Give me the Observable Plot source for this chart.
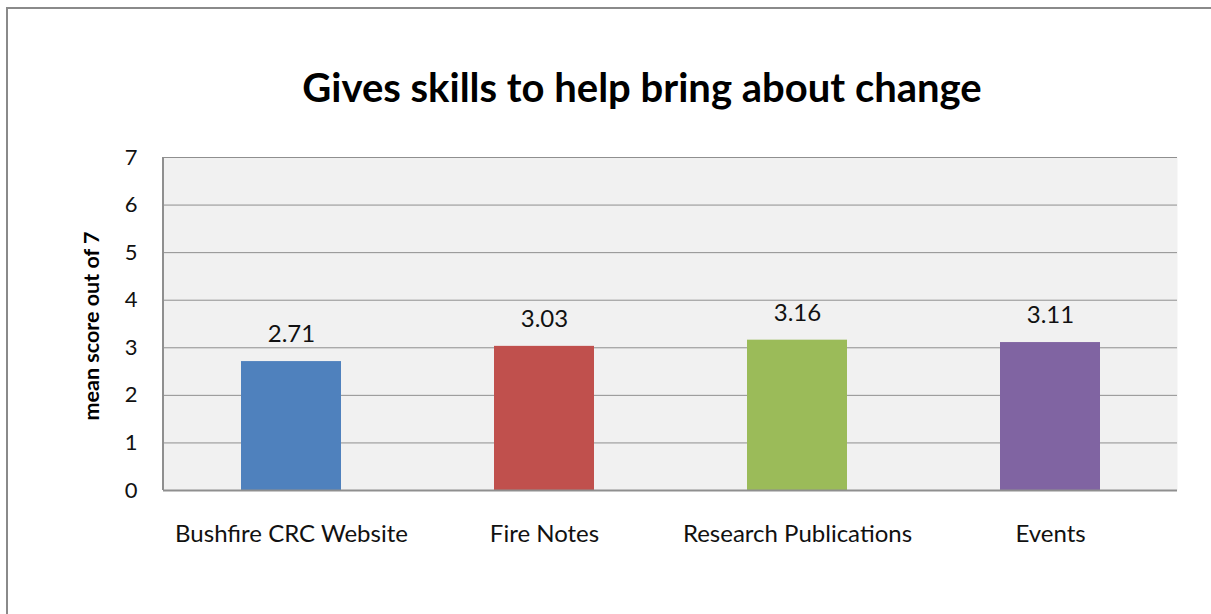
<!DOCTYPE html>
<html>
<head>
<meta charset="utf-8">
<script src="https://cdn.jsdelivr.net/npm/d3@7"></script>
<script src="https://cdn.jsdelivr.net/npm/@observablehq/plot@0.6"></script>
<style>
  html, body { margin: 0; padding: 0; background: #fff; overflow: hidden; }
  #wrap { position: relative; width: 1211px; height: 614px; }
  #frame { position: absolute; left: 6px; top: 7px; width: 1300px; height: 700px;
           border-left: 2px solid #8a8a8a; border-top: 2px solid #8a8a8a; box-sizing: border-box; }
  #title { position: absolute; left: 0; width: 1284px; top: 63px; text-align: center;
           font-family: Lato, "Open Sans", sans-serif; font-weight: bold; font-size: 40px; color: #000; }
  #chart { position: absolute; left: 0; top: 0; }
</style>
</head>
<body>
<div id="wrap">
  <div id="frame"></div>
  <div id="title">Gives skills to help bring about change</div>
  <div id="chart"></div>
</div>
<script>
const categories = ["Bushfire CRC Website", "Fire Notes", "Research Publications", "Events"];
const values = [2.71, 3.03, 3.16, 3.11];
const colors = ["#4f81bd", "#c0504d", "#9bbb59", "#8064a2"];
const yTicks = [0, 1, 2, 3, 4, 5, 6, 7];
const yLabel = "mean score out of 7";

const data = categories.map((c, i) => ({category: c, value: values[i], color: colors[i]}));

const plot = Plot.plot({
  width: 1211,
  height: 614,
  marginLeft: 163,
  marginRight: 34,
  marginTop: 157,
  marginBottom: 124,
  style: {fontFamily: "Lato, 'Open Sans', sans-serif", background: "transparent", overflow: "visible"},
  x: {domain: categories, paddingInner: 0.605, paddingOuter: 0.3025, label: null},
  y: {domain: [0, 7], label: null},
  marks: [
    Plot.frame({fill: "#f1f1f1", stroke: null}),
    Plot.ruleY(yTicks.filter(d => d > 0), {stroke: "#8f8f8f", strokeWidth: 1, strokeOpacity: 1}),
    Plot.barY(data, {x: "category", y: "value", fill: "color"}),
    Plot.ruleY([0], {stroke: "#8f8f8f", strokeWidth: 2}),
    Plot.axisY({ticks: yTicks, tickFormat: "d", tickSize: 0, tickPadding: 26, fontSize: 22, fill: "#111", label: null}),
    Plot.axisX({tickSize: 0, tickPadding: 34, fontSize: 24, fill: "#111", label: null}),
    Plot.text(data, {x: "category", y: "value", text: d => d.value.toFixed(2), dy: -27, fontSize: 24, fill: "#111"}),
    Plot.text([yLabel], {frameAnchor: "left", dx: -71, dy: 2, rotate: -90, textAnchor: "middle", fontSize: 21.5, fontWeight: "bold", fill: "#000"})
  ]
});

// left axis line
const svg = d3.select(plot);
svg.append("line")
  .attr("x1", 163).attr("x2", 163).attr("y1", 157).attr("y2", 490)
  .attr("stroke", "#8f8f8f").attr("stroke-width", 2);

document.getElementById("chart").appendChild(plot);
</script>
</body>
</html>
